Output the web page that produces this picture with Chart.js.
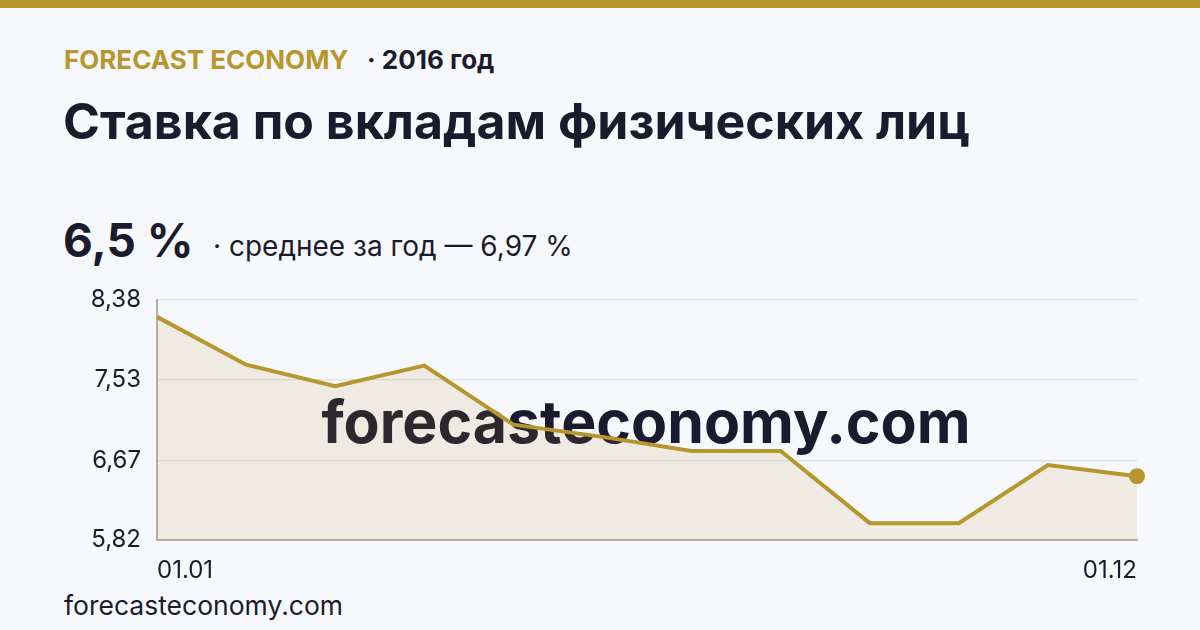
<!DOCTYPE html>
<html>
<head>
<meta charset="utf-8">
<script src="https://cdn.jsdelivr.net/npm/chart.js@4.4.1/dist/chart.umd.min.js"></script>
<style>
  html, body { margin: 0; padding: 0; }
  body { width: 1200px; height: 630px; background: #f7f8fc; position: relative; overflow: hidden; font-family: Inter, 'Noto Sans', sans-serif; color: #1b1b2e; }
  .topbar { position: absolute; left: 0; top: 0; width: 1200px; height: 8px; background: #b8962e; }
  .txt { position: absolute; white-space: nowrap; line-height: 1; }
  #brand { left: 64px; top: 47px; font-size: 26px; font-weight: 700; color: #b8962e; }
  #year { left: 367px; top: 47px; font-size: 26px; font-weight: 700; }
  #title { left: 63px; top: 96px; font-size: 50px; font-weight: 700; }
  #big { left: 63px; top: 217px; font-size: 46px; font-weight: 700; }
  #avg { left: 213px; top: 232px; font-size: 28px; font-weight: 400; }
  #foot { left: 64px; top: 592px; font-size: 26.5px; font-weight: 400; }
  #c { position: absolute; left: 0; top: 0; }
</style>
</head>
<body>
<div class="topbar"></div>
<div class="txt" id="brand">FORECAST ECONOMY</div>
<div class="txt" id="year">· 2016 год</div>
<div class="txt" id="title">Ставка по вкладам физических лиц</div>
<div class="txt" id="big">6,5 %</div>
<div class="txt" id="avg">· среднее за год — 6,97 %</div>
<div class="txt" id="foot">forecasteconomy.com</div>
<canvas id="c" width="1200" height="630"></canvas>
<script>
const months = ['01.01', '01.02', '01.03', '01.04', '01.05', '01.06', '01.07', '01.08', '01.09', '01.10', '01.11', '01.12'];
const rates = [8.20, 7.69, 7.46, 7.68, 7.05, 6.92, 6.77, 6.77, 6.00, 6.00, 6.62, 6.50];
const yTicks = [5.82, 6.67, 7.53, 8.38];

const gold = '#b8962e';

// big watermark, drawn before the line so the fill tints it
const watermark = {
    id: 'watermark',
    beforeDatasetsDraw(chart) {
        const { ctx, chartArea } = chart;
        ctx.save();
        ctx.font = '700 59px Inter, sans-serif';
        ctx.fillStyle = '#1b1a2e';
        ctx.textAlign = 'center';
        ctx.textBaseline = 'alphabetic';
        ctx.fillText('forecasteconomy.com', (chartArea.left + chartArea.right) / 2 - 1, 443);
        ctx.restore();
    }
};

new Chart(document.getElementById('c'), {
    type: 'line',
    data: {
        labels: months,
        datasets: [{
            data: rates,
            borderColor: gold,
            borderWidth: 4,
            fill: 'start',
            backgroundColor: 'rgba(184, 150, 46, 0.12)',
            tension: 0,
            pointRadius: rates.map((v, i) => i === rates.length - 1 ? 8 : 0),
            pointBackgroundColor: gold,
            pointBorderWidth: 0
        }]
    },
    options: {
        responsive: false,
        animation: false,
        events: [],
        layout: { padding: { top: 300, right: 63, left: 0, bottom: 0 } },
        plugins: { legend: { display: false }, tooltip: { enabled: false } },
        scales: {
            x: {
                offset: false,
                afterFit: (scale) => { scale.height = 90; },
                grid: { display: false, drawTicks: false },
                border: { display: true, color: '#b5b0a6', width: 2 },
                ticks: {
                    autoSkip: false,
                    maxRotation: 0,
                    align: 'inner',
                    padding: 16,
                    color: '#1b1b2e',
                    font: { family: 'Inter', size: 24 },
                    callback: (v, i) => (i === 0 || i === months.length - 1) ? months[i] : ''
                }
            },
            y: {
                min: yTicks[0],
                max: yTicks[yTicks.length - 1],
                afterFit: (scale) => { scale.width = 157; },
                afterBuildTicks: (scale) => { scale.ticks = yTicks.map(v => ({ value: v })); },
                grid: { color: '#e1e3ea', lineWidth: 1.5, drawTicks: false },
                border: { display: true, color: '#b5b0a6', width: 2 },
                ticks: {
                    padding: 16,
                    color: '#1b1b2e',
                    font: { family: 'Inter', size: 24 },
                    callback: (v) => v.toFixed(2).replace('.', ',')
                }
            }
        }
    },
    plugins: [watermark]
});
</script>
</body>
</html>
